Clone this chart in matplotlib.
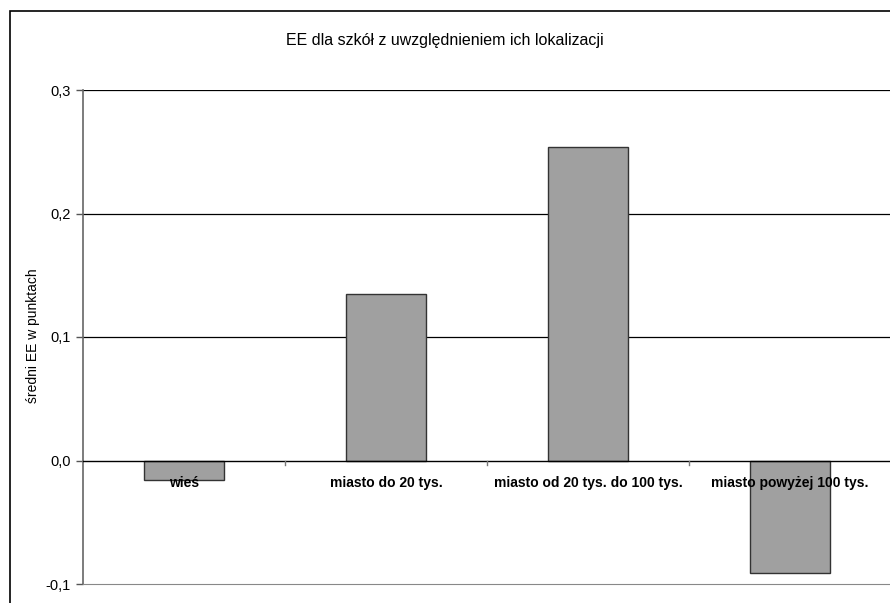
import numpy as np
import matplotlib
matplotlib.use('Agg')
import matplotlib.pyplot as plt
from matplotlib.patches import Rectangle

# Data
categories = ['wieś', 'miasto do 20 tys.', 'miasto od 20 tys. do 100 tys.', 'miasto powyżej 100 tys.']
values = [-0.016, 0.135, 0.254, -0.091]
yticks = [-0.1, 0.0, 0.1, 0.2, 0.3]
ytick_labels = ['-0,1', '0,0', '0,1', '0,2', '0,3']

plt.rcParams['font.family'] = ['Liberation Sans', 'DejaVu Sans']

fig = plt.figure(figsize=(8.9, 6.03), dpi=100)
ax = fig.add_axes([83 / 890, 1 - 584 / 603, 808 / 890, (584 - 90) / 603])

# outer chart frame (runs off right and bottom edges)
fig.patches.append(Rectangle((10 / 890, -0.05), 1.0, 1 - 11 / 603 + 0.05,
                             transform=fig.transFigure, fill=False,
                             edgecolor='black', linewidth=1.2))

x = np.arange(len(categories))
ax.bar(x, values, width=0.4, color='#a0a0a0', edgecolor='#333333', linewidth=1.0, zorder=2)

ax.set_xlim(-0.5, len(categories) - 0.5)
ax.set_ylim(-0.1, 0.3)

# horizontal gridlines
for v in yticks[2:]:
    ax.axhline(v, color='black', linewidth=0.9, zorder=1)
ax.axhline(0, color='black', linewidth=1.0, zorder=3)

ax.spines['top'].set_visible(False)
ax.spines['right'].set_visible(False)
ax.spines['bottom'].set_color('#888888')
ax.spines['left'].set_color('#666666')
ax.spines['left'].set_linewidth(1.2)

ax.set_yticks(yticks)
ax.set_yticklabels(ytick_labels, fontsize=10.5)
ax.tick_params(axis='y', direction='out', length=5, width=1, color='#555555', pad=4)

# category boundary ticks on zero line
ax.set_xticks([])
for b in x[:-1] + 0.5:
    ax.plot([b, b], [0, -0.0035], color='#777777', linewidth=1, zorder=3, clip_on=False)

for i, lbl in enumerate(categories):
    ax.annotate(lbl, (x[i], 0), xytext=(0, -16.5), textcoords='offset points',
                ha='center', va='center', fontsize=10, fontweight='bold', zorder=4)

fig.text(33 / 890, 1 - 336 / 603, 'średni EE w punktach', rotation=90,
         ha='center', va='center', fontsize=10)
fig.text(445 / 890, 1 - 40 / 603, 'EE dla szkół z uwzględnieniem ich lokalizacji',
         ha='center', va='center', fontsize=11.5)

fig.savefig('out.png', dpi=100)
